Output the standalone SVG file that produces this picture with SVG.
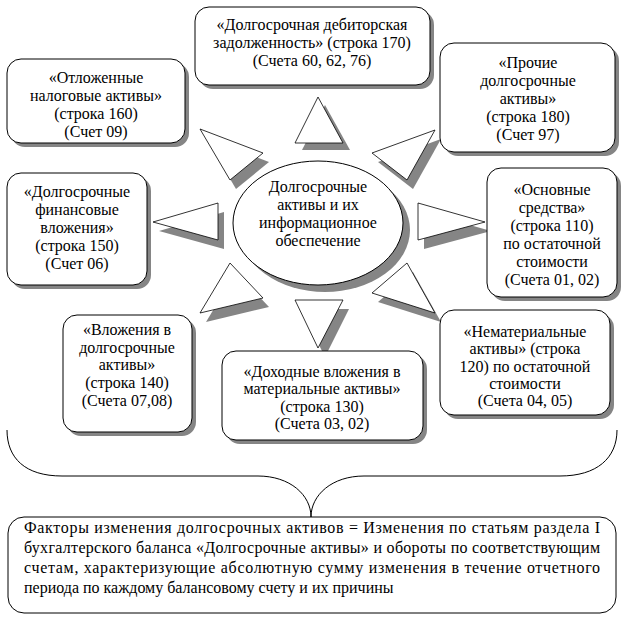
<svg xmlns="http://www.w3.org/2000/svg" width="622" height="630" viewBox="0 0 622 630">
<style>
.box{fill:#fff;stroke:#000;stroke-width:1}
.sh{fill:#858585}
.tri{fill:#fff;stroke:#000;stroke-width:0.8}
.br{fill:none;stroke:#000;stroke-width:1}
.c{text-anchor:middle}
</style>
<rect width="622" height="630" fill="#fff"/>
<g id="connectors">
  <g class="sh">
    <polygon points="325,105 302,150 350,150"/>
    <polygon points="206,138 269,162 236,189"/>
    <polygon points="441,139 378,162 413,189"/>
    <polygon points="159,231 224,212 224,249"/>
    <polygon points="491,231 424,212 424,249"/>
    <polygon points="236,272 269,307 206,322"/>
    <polygon points="413,272 378,302 441,322"/>
    <polygon points="301,309 349,309 325,357"/>
  </g>
  <polygon class="tri" points="318,97 295,143 343,143"/>
  <polygon class="tri" points="200,129 263,153 230,180"/>
  <polygon class="tri" points="435,130 372,153 407,180"/>
  <polygon class="tri" points="153,222 218,203 218,240"/>
  <polygon class="tri" points="485,222 418,203 418,240"/>
  <polygon class="tri" points="230,263 263,298 200,313"/>
  <polygon class="tri" points="407,263 372,293 435,313"/>
  <polygon class="tri" points="295,300 343,300 318,348"/>
  <path class="br" d="M7,430 C7,458 25,476 62,476 L258,476 C290,476 311,495 311,517 C311,495 332,476 364,476 L560,476 C597,476 617,458 617,430"/>
</g>
<g id="center">
  <ellipse class="sh" cx="325" cy="230" rx="85" ry="62"/>
  <ellipse class="box" cx="318" cy="223" rx="85" ry="62"/>
  <text class="c" font-family="Liberation Serif" font-size="16" x="318" y="192">Долгосрочные</text>
  <text class="c" font-family="Liberation Serif" font-size="16" x="318" y="210">активы и их</text>
  <text class="c" font-family="Liberation Serif" font-size="16" x="318" y="228">информационное</text>
  <text class="c" font-family="Liberation Serif" font-size="16" x="318" y="246">обеспечение</text>
</g>
<g id="n170">
  <rect class="sh" x="199" y="11" width="235" height="78" rx="14"/>
  <rect class="box" x="195" y="7" width="235" height="78" rx="14"/>
  <text class="c" font-family="Liberation Serif" font-size="16" x="312" y="30">«Долгосрочная дебиторская</text>
  <text class="c" font-family="Liberation Serif" font-size="16" x="312" y="48">задолженность» (строка 170)</text>
  <text class="c" font-family="Liberation Serif" font-size="16" x="312" y="66">(Счета 60, 62, 76)</text>
</g>
<g id="n160">
  <rect class="sh" x="11" y="63" width="178" height="84" rx="14"/>
  <rect class="box" x="7" y="59" width="178" height="84" rx="14"/>
  <text class="c" font-family="Liberation Serif" font-size="16" x="96" y="83">«Отложенные</text>
  <text class="c" font-family="Liberation Serif" font-size="16" x="96" y="101">налоговые активы»</text>
  <text class="c" font-family="Liberation Serif" font-size="16" x="96" y="119">(строка 160)</text>
  <text class="c" font-family="Liberation Serif" font-size="16" x="96" y="137">(Счет 09)</text>
</g>
<g id="n180">
  <rect class="sh" x="444" y="47" width="175" height="109" rx="14"/>
  <rect class="box" x="440" y="43" width="175" height="109" rx="14"/>
  <text class="c" font-family="Liberation Serif" font-size="16" x="528" y="68">«Прочие</text>
  <text class="c" font-family="Liberation Serif" font-size="16" x="528" y="86">долгосрочные</text>
  <text class="c" font-family="Liberation Serif" font-size="16" x="528" y="104">активы»</text>
  <text class="c" font-family="Liberation Serif" font-size="16" x="528" y="122">(строка 180)</text>
  <text class="c" font-family="Liberation Serif" font-size="16" x="528" y="140">(Счет 97)</text>
</g>
<g id="n150">
  <rect class="sh" x="11" y="177" width="140" height="112" rx="14"/>
  <rect class="box" x="7" y="173" width="140" height="112" rx="14"/>
  <text class="c" font-family="Liberation Serif" font-size="16" x="77" y="197">«Долгосрочные</text>
  <text class="c" font-family="Liberation Serif" font-size="16" x="77" y="215">финансовые</text>
  <text class="c" font-family="Liberation Serif" font-size="16" x="77" y="233">вложения»</text>
  <text class="c" font-family="Liberation Serif" font-size="16" x="77" y="251">(строка 150)</text>
  <text class="c" font-family="Liberation Serif" font-size="16" x="77" y="269">(Счет 06)</text>
</g>
<g id="n110">
  <rect class="sh" x="491" y="172" width="130" height="129" rx="14"/>
  <rect class="box" x="487" y="168" width="130" height="129" rx="14"/>
  <text class="c" font-family="Liberation Serif" font-size="16" x="552" y="195">«Основные</text>
  <text class="c" font-family="Liberation Serif" font-size="16" x="552" y="213">средства»</text>
  <text class="c" font-family="Liberation Serif" font-size="16" x="552" y="231">(строка 110)</text>
  <text class="c" font-family="Liberation Serif" font-size="16" x="552" y="249">по остаточной</text>
  <text class="c" font-family="Liberation Serif" font-size="16" x="552" y="267">стоимости</text>
  <text class="c" font-family="Liberation Serif" font-size="16" x="552" y="285">(Счета 01, 02)</text>
</g>
<g id="n140">
  <rect class="sh" x="67" y="319" width="129" height="117" rx="14"/>
  <rect class="box" x="63" y="315" width="129" height="117" rx="14"/>
  <text class="c" font-family="Liberation Serif" font-size="16" x="127" y="335">«Вложения в</text>
  <text class="c" font-family="Liberation Serif" font-size="16" x="127" y="353">долгосрочные</text>
  <text class="c" font-family="Liberation Serif" font-size="16" x="127" y="370">активы»</text>
  <text class="c" font-family="Liberation Serif" font-size="16" x="127" y="388">(строка 140)</text>
  <text class="c" font-family="Liberation Serif" font-size="16" x="127" y="406">(Счета 07,08)</text>
</g>
<g id="n130">
  <rect class="sh" x="226" y="355" width="201" height="89" rx="14"/>
  <rect class="box" x="222" y="351" width="201" height="89" rx="14"/>
  <text class="c" font-family="Liberation Serif" font-size="16" x="322" y="377">«Доходные вложения в</text>
  <text class="c" font-family="Liberation Serif" font-size="16" x="322" y="394">материальные активы»</text>
  <text class="c" font-family="Liberation Serif" font-size="16" x="322" y="412">(строка 130)</text>
  <text class="c" font-family="Liberation Serif" font-size="16" x="322" y="429">(Счета 03, 02)</text>
</g>
<g id="n120">
  <rect class="sh" x="444" y="314" width="170" height="105" rx="14"/>
  <rect class="box" x="440" y="310" width="170" height="105" rx="14"/>
  <text class="c" font-family="Liberation Serif" font-size="16" x="525" y="337">«Нематериальные</text>
  <text class="c" font-family="Liberation Serif" font-size="16" x="525" y="354">активы» (строка</text>
  <text class="c" font-family="Liberation Serif" font-size="16" x="525" y="372">120) по остаточной</text>
  <text class="c" font-family="Liberation Serif" font-size="16" x="525" y="389">стоимости</text>
  <text class="c" font-family="Liberation Serif" font-size="16" x="525" y="406">(Счета 04, 05)</text>
</g>
<g id="factors">
  <rect class="box" x="8" y="517" width="608" height="96" rx="16"/>
  <text font-family="Liberation Serif" font-size="16" x="24" y="533" textLength="576" lengthAdjust="spacing">Факторы изменения долгосрочных активов = Изменения по статьям раздела I</text>
  <text font-family="Liberation Serif" font-size="16" x="24" y="553" textLength="576" lengthAdjust="spacing">бухгалтерского баланса «Долгосрочные активы» и обороты по соответствующим</text>
  <text font-family="Liberation Serif" font-size="16" x="24" y="573" textLength="576" lengthAdjust="spacing">счетам, характеризующие абсолютную сумму изменения в течение отчетного</text>
  <text font-family="Liberation Serif" font-size="16" x="24" y="593">периода по каждому балансовому счету и их причины</text>
</g>
</svg>
